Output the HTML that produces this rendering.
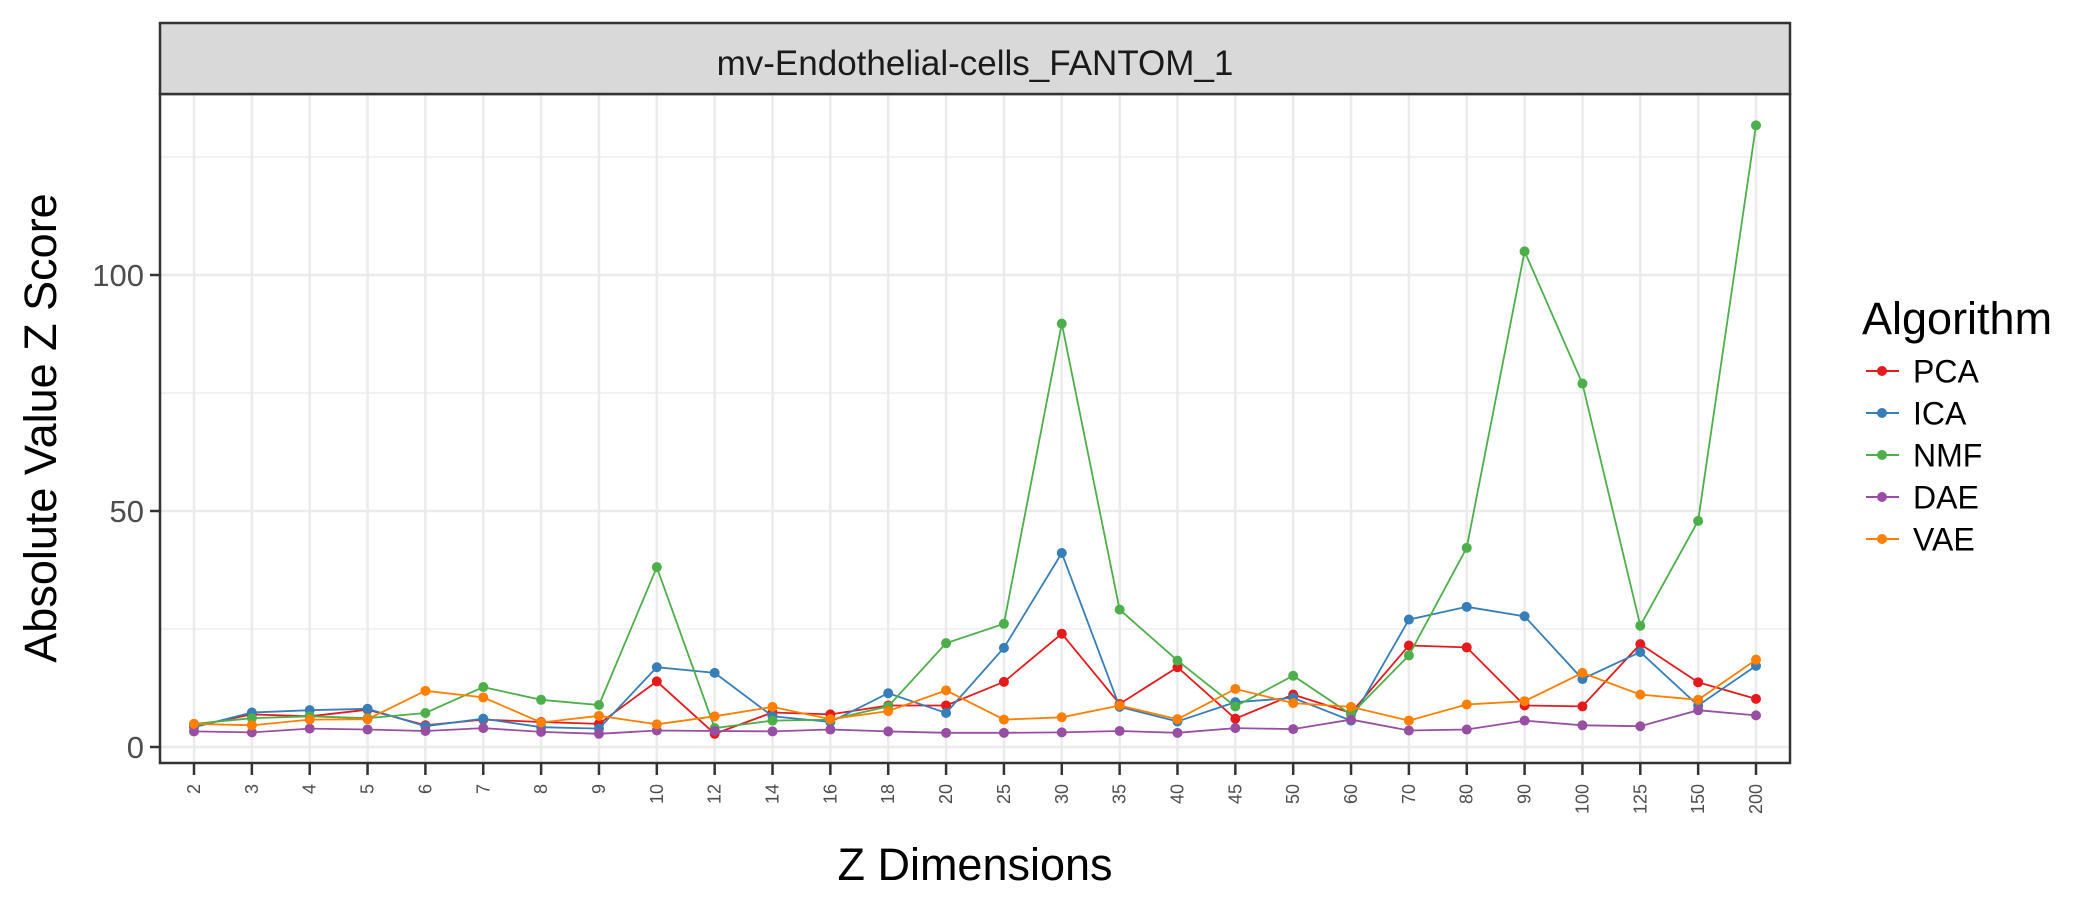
<!DOCTYPE html>
<html><head><meta charset="utf-8"><style>
html,body{margin:0;padding:0;background:#fff;}
svg{display:block;font-family:"Liberation Sans",Arial,sans-serif;}
</style></head><body>
<svg id="chart" width="2100" height="900" viewBox="0 0 2100 900" xmlns="http://www.w3.org/2000/svg">
<rect x="0" y="0" width="2100" height="900" fill="#fff"/>
<g id="grid"></g>
<g id="series"></g>
<rect x="160" y="94" width="1630" height="669" fill="none" stroke="#333" stroke-width="2.5"/>
<rect x="160" y="23" width="1630" height="71" fill="#d9d9d9" stroke="#333" stroke-width="2.5"/>
<text x="975" y="75" font-size="35" text-anchor="middle" fill="#1a1a1a">mv-Endothelial-cells_FANTOM_1</text>
<g id="axes"></g>
<text transform="translate(56,428) rotate(-90)" font-size="45" text-anchor="middle" fill="#000">Absolute Value Z Score</text>
<text x="975" y="880" font-size="45" text-anchor="middle" fill="#000">Z Dimensions</text>
<g id="legend">
<text x="1862" y="334" font-size="45" fill="#000">Algorithm</text>
</g>
</svg>
<script>
const categories = ["2","3","4","5","6","7","8","9","10","12","14","16","18","20","25","30","35","40","45","50","60","70","80","90","100","125","150","200"];
const seriesNames = ["PCA","ICA","NMF","DAE","VAE"];
const seriesColors = ["#e41a1c","#377eb8","#4daf4a","#984ea3","#ff7f00"];
const pcaValues = [4.4,6.9,6.5,7.9,4.6,5.8,5.3,4.9,13.9,2.8,7.3,6.9,8.8,8.8,13.8,24.0,9.1,16.9,6.0,11.1,7.2,21.5,21.1,8.8,8.6,21.8,13.7,10.2];
const icaValues = [4.2,7.3,7.8,8.1,4.4,6.0,4.2,3.9,16.9,15.7,6.5,5.3,11.4,7.2,21.0,41.1,8.5,5.4,9.5,10.4,5.6,27.0,29.7,27.7,14.4,20.1,8.8,17.2];
const nmfValues = [4.9,6.1,6.5,6.1,7.2,12.7,10.0,8.9,38.1,4.0,5.6,5.8,8.6,22.0,26.1,89.7,29.1,18.3,8.6,15.1,6.9,19.4,42.2,105.0,77.0,25.7,47.9,131.7];
const daeValues = [3.3,3.1,3.9,3.7,3.4,4.0,3.2,2.8,3.5,3.4,3.3,3.7,3.3,3.0,3.0,3.1,3.4,3.0,4.0,3.8,5.8,3.5,3.7,5.6,4.6,4.4,7.8,6.7];
const vaeValues = [4.9,4.6,5.8,5.9,11.9,10.5,5.2,6.6,4.8,6.5,8.5,5.9,7.6,12.0,5.8,6.3,8.8,5.9,12.3,9.3,8.5,5.6,9.0,9.7,15.7,11.1,10.0,18.5];
const yTicks = [0,50,100];
const yMinorTicks = [25,75,125];

const NS="http://www.w3.org/2000/svg";
const X0=194, XSTEP=(1756-194)/27, Y0=747, YU=4.72;
function xPos(i){return X0+i*XSTEP;}
function yPos(v){return Y0-v*YU;}
function mk(tag,attrs,parent){const e=document.createElementNS(NS,tag);for(const k in attrs)e.setAttribute(k,attrs[k]);parent.appendChild(e);return e;}
const grid=document.getElementById('grid'),axes=document.getElementById('axes'),ser=document.getElementById('series'),leg=document.getElementById('legend');
yMinorTicks.forEach(v=>{const l=mk('line',{x1:160,x2:1790,y1:yPos(v),y2:yPos(v),stroke:'#ebebeb','stroke-width':1.3},grid);

});
yTicks.forEach(v=>{const l=mk('line',{x1:160,x2:1790,y1:yPos(v),y2:yPos(v),stroke:'#ebebeb','stroke-width':2.6},grid);


const t=mk('line',{x1:150,x2:160,y1:yPos(v),y2:yPos(v),stroke:'#333','stroke-width':2.5},axes);


const tx=mk('text',{x:144,y:yPos(v)+11,'font-size':31,'text-anchor':'end',fill:'#4d4d4d'},axes);
tx.textContent=v;

});
categories.forEach((c,i)=>{const l=mk('line',{x1:xPos(i),x2:xPos(i),y1:94,y2:763,stroke:'#ebebeb','stroke-width':2.6},grid);


const t=mk('line',{x1:xPos(i),x2:xPos(i),y1:763,y2:775,stroke:'#333','stroke-width':2.5},axes);


const tx=mk('text',{transform:`translate(${xPos(i)+6},${784}) rotate(-90)`,'font-size':18,'text-anchor':'end',fill:'#4d4d4d'},axes);
tx.textContent=c;

});
const allValues=[pcaValues,icaValues,nmfValues,daeValues,vaeValues];
allValues.forEach((vals,s)=>{const g=mk('g',{},ser);


const pts=vals.map((v,i)=>xPos(i).toFixed(1)+','+yPos(v).toFixed(1)).join(' ');
const pl=mk('polyline',{points:pts,fill:'none',stroke:seriesColors[s],'stroke-width':1.8},g);


vals.forEach((v,i)=>{const c=mk('circle',{cx:xPos(i),cy:yPos(v),r:5,fill:seriesColors[s]},g);

});});
seriesNames.forEach((n,s)=>{const y=371+s*42;const g=mk('g',{},leg);


mk('line',{x1:1866,x2:1899,y1:y,y2:y,stroke:seriesColors[s],'stroke-width':2},g);
mk('circle',{cx:1882,cy:y,r:5,fill:seriesColors[s]},g);
const t=mk('text',{x:1913,y:y+11.5,'font-size':32,fill:'#000'},g);
t.textContent=n;

});
</script>
</body></html>
